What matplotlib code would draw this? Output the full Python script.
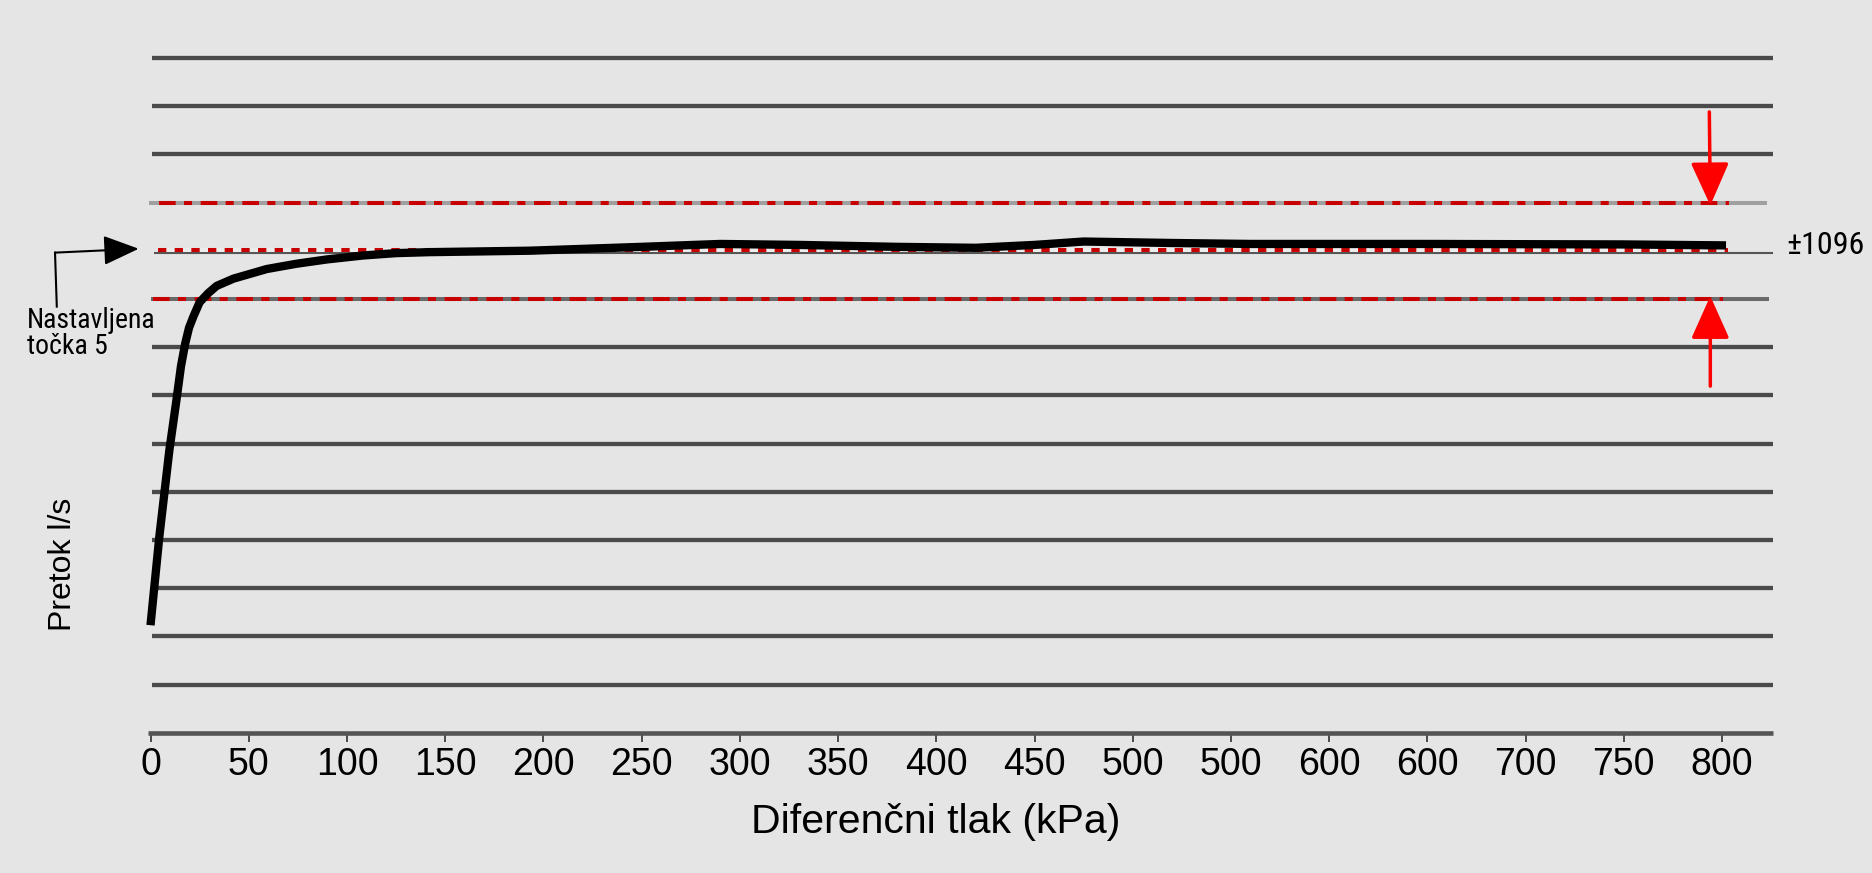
import matplotlib
matplotlib.use('Agg')
import matplotlib.pyplot as plt
from matplotlib import font_manager
from matplotlib.transforms import offset_copy

plt.rcParams['lines.scale_dashes'] = False
plt.rcParams['font.family'] = ['Liberation Sans', 'DejaVu Sans']

# ---------------- data ----------------
pressure_kpa = [0, 4.5, 9.6, 13.2, 15.5, 17.7, 19.6, 21.8, 25, 29.4, 33.7, 42.2, 49,
                59.2, 74.4, 90, 108, 125, 142, 193, 250, 290, 330, 380, 420, 450, 475,
                520, 560, 650, 750, 802]
flow_rows = [2.23, 4.07, 5.86, 6.9, 7.6, 8.08, 8.4, 8.63, 8.93, 9.12, 9.27, 9.42, 9.5,
             9.62, 9.73, 9.82, 9.9, 9.95, 9.97, 10.0, 10.08, 10.14, 10.12, 10.08, 10.06,
             10.12, 10.19, 10.16, 10.14, 10.14, 10.13, 10.11]

tick_values = [0, 50, 100, 150, 200, 250, 300, 350, 400, 450, 500, 550, 600, 650, 700, 750, 800]
tick_labels = ['0', '50', '100', '150', '200', '250', '300', '350', '400', '450',
               '500', '500', '600', '600', '700', '750', '800']

grid_rows = [1, 2, 3, 4, 5, 6, 7, 8, 12, 13, 14]
setpoint_row = 10
upper_row = 11
lower_row = 9
tolerance_label = '\u00b11096'
setpoint_label = ['Nastavljena', 'to\u010dka 5']
x_label = 'Diferen\u010dni tlak (kPa)'
y_label = 'Pretok l/s'

# condensed face for the small annotations
_available = {f.name for f in font_manager.fontManager.ttflist}
narrow_font = 'Liberation Sans'
for cand in ['Liberation Sans Narrow', 'Nimbus Sans Narrow', 'Arial Narrow',
             'Roboto Condensed', 'Archivo Narrow', 'PT Sans Narrow']:
    if cand in _available:
        narrow_font = cand
        break
narrow = [narrow_font, 'Liberation Sans', 'DejaVu Sans']

# ---------------- figure / axes geometry ----------------
W, H, DPI = 1872, 873, 100
fig = plt.figure(figsize=(W / DPI, H / DPI), dpi=DPI, facecolor='#e5e5e5')

px_per_x = 1.9645
x0_px = 150.5
row0_px = 732.7
px_per_row = 48.2
xlim = (-2.0, 826.0)
ylim = (0.0, 14.5)
left = (x0_px + xlim[0] * px_per_x) / W
right = (x0_px + xlim[1] * px_per_x) / W
bottom = (H - row0_px) / H
top = (H - (row0_px - ylim[1] * px_per_row)) / H
ax = fig.add_axes([left, bottom, right - left, top - bottom])
ax.set_xlim(xlim)
ax.set_ylim(ylim)
ax.patch.set_visible(False)
for s in ax.spines.values():
    s.set_visible(False)
ax.set_yticks([])

# ---------------- grid lines ----------------
ax.hlines(grid_rows, 0.8, 825.7, color='#4a4a4a', lw=3.1, zorder=1, clip_on=False)
ax.hlines(0, -1.3, 825.8, color='#555555', lw=3.3, zorder=2, clip_on=False)

# upper tolerance line (gray + red dash-dot)
ax.plot([-0.6, 823], [upper_row, upper_row], color='#a0a0a0', lw=2.9, zorder=2,
        solid_capstyle='butt', clip_on=False)
ax.plot([4.3, 803.7], [upper_row, upper_row], color='#c80000', lw=2.9, zorder=3,
        dashes=(12, 6, 5.8, 6.2), clip_on=False)

# lower tolerance line
ax.plot([0.1, 824], [lower_row, lower_row], color='#6a6a6a', lw=2.9, zorder=2,
        solid_capstyle='butt', clip_on=False)
ax.plot([1.3, 800.6], [lower_row, lower_row], color='#c80000', lw=2.9, zorder=3,
        dashes=(12, 6, 5.8, 6.2), clip_on=False)

# setpoint line: thin dark line + red dashes with light gaps just above
t_low = offset_copy(ax.transData, fig=fig, x=0, y=-1.8, units='dots')
t_high = offset_copy(ax.transData, fig=fig, x=0, y=1.0, units='dots')
ax.plot([1.8, 826], [setpoint_row, setpoint_row], color='#555555', lw=1.5, zorder=2,
        transform=t_low, clip_on=False, solid_capstyle='butt')
ax.plot([3.8, 803], [setpoint_row, setpoint_row], color='#ececec', lw=2.9, zorder=3,
        transform=t_high, clip_on=False, solid_capstyle='butt')
ax.plot([3.8, 803], [setpoint_row, setpoint_row], color='#c80000', lw=2.9, zorder=3,
        transform=t_high, dashes=(6, 6), clip_on=False)

# ---------------- curve ----------------
ax.plot(pressure_kpa, flow_rows, color='black', lw=6.0, zorder=6,
        solid_capstyle='butt', solid_joinstyle='round', clip_on=False)

# ---------------- ticks ----------------
ax.set_xticks(tick_values)
ax.set_xticklabels(tick_labels)
ax.tick_params(axis='x', length=6.5, width=1.1, color='#222222', pad=4.0,
               labelsize=27, direction='out')

# ---------------- red arrows ----------------
arrow_x = 794
red_style = dict(arrowstyle='-|>,head_length=2.66,head_width=1.19', color='#ff0000',
                 lw=2.5, shrinkA=0, shrinkB=0, mutation_scale=10)
ax.annotate('', xy=(arrow_x, upper_row - 0.06), xytext=(arrow_x - 0.5, 12.88),
            arrowprops=red_style, annotation_clip=False, zorder=7)
ax.annotate('', xy=(arrow_x, lower_row + 0.06), xytext=(arrow_x, 7.19),
            arrowprops=red_style, annotation_clip=False, zorder=7)

# ---------------- setpoint pointer ----------------
ax.plot([-47.7, -48.6], [8.84, 9.96], color='black', lw=1.5, clip_on=False, zorder=7)
ax.annotate('', xy=(-6.0, setpoint_row + 0.04), xytext=(-48.6, 9.96),
            arrowprops=dict(arrowstyle='-|>,head_length=2.2,head_width=0.92',
                            color='black', lw=1.5, shrinkA=0, shrinkB=0,
                            mutation_scale=10),
            annotation_clip=False, zorder=7)

fig.text(26.7 / W, (H - 328) / H, setpoint_label[0], fontsize=20, family=narrow,
         ha='left', va='baseline')
fig.text(26.7 / W, (H - 354) / H, setpoint_label[1], fontsize=20, family=narrow,
         ha='left', va='baseline')
fig.text(1786 / W, (H - 245) / H, tolerance_label, fontsize=23, family=narrow,
         ha='left', va='center')

# ---------------- axis labels ----------------
fig.text(936 / W, (H - 833) / H, x_label, fontsize=29.5, ha='center', va='baseline')
fig.text(63 / W, (H - 564) / H, y_label, fontsize=23, rotation=90,
         ha='center', va='center')

fig.savefig('out.png', dpi=DPI, facecolor=fig.get_facecolor())
